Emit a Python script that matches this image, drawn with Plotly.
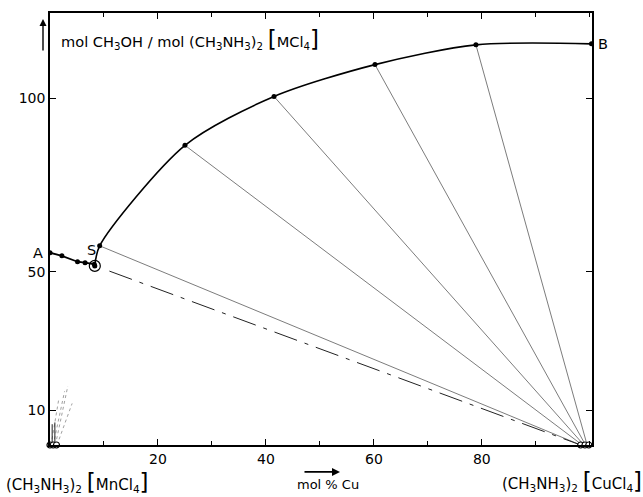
import plotly.graph_objects as go

# ---- data ----
# lower branch A -> S (Mn-rich side)
lower_x = [0.0, 2.2, 5.1, 6.5, 8.2]
lower_y = [55.5, 54.6, 52.9, 52.6, 52.2]
# point S (circled)
s_x = [8.3]
s_y = [51.7]
# upper branch S -> B
upper_x = [8.3, 9.2, 25.0, 41.5, 60.2, 78.9, 100.3]
upper_y = [51.7, 57.5, 86.5, 100.6, 109.8, 115.5, 115.8]
# tie lines: from curve points to Cu-rich solid phases
tie_start_x = [9.2, 25.0, 41.5, 60.2, 78.9]
tie_start_y = [57.5, 86.5, 100.6, 109.8, 115.5]
tie_end_x = [98.3, 98.6, 98.9, 99.2, 99.5]
# dash-dot line from S
dashdot_x = [11.0, 98.3]
dashdot_y = [50.2, 0.0]
# open circles on the baseline
circ_mn_x = [0.0, 0.6, 1.2]
circ_cu_x = [98.3, 99.1, 99.8]
# faint dotted tie lines near the Mn end
dot_start_x = [0.2, 0.6, 1.0, 1.3]
dot_end_x = [1.6, 2.7, 3.3, 4.1]
dot_end_y = [13.0, 15.5, 17.0, 12.0]
# short solid tie stubs near Mn end
stub_x = [0.4, 0.9]
stub_y = [6.0, 6.5]

x_ticks = [20, 40, 60, 80]
x_ticklabels = ["20", "40", "60", "80"]
y_ticks = [10, 50, 100]
y_ticklabels = ["10", "50", "100"]

fig = go.Figure()

thin = dict(color="#444444", width=0.7)

for sx, sy, ex in zip(tie_start_x, tie_start_y, tie_end_x):
    fig.add_trace(go.Scatter(x=[sx, ex], y=[sy, 0], mode="lines", line=thin,
                             hoverinfo="skip", showlegend=False))

fig.add_trace(go.Scatter(x=dashdot_x, y=dashdot_y, mode="lines",
                         line=dict(color="#222222", width=1, dash="24px,8px,4px,8px"),
                         showlegend=False))

for sx, ex, ey in zip(dot_start_x, dot_end_x, dot_end_y):
    fig.add_trace(go.Scatter(x=[sx, ex], y=[0, ey], mode="lines",
                             line=dict(color="#888888", width=0.8, dash="dot"),
                             showlegend=False))
for sx, sy in zip(stub_x, stub_y):
    fig.add_trace(go.Scatter(x=[sx, sx], y=[0, sy], mode="lines",
                             line=dict(color="#222222", width=1), showlegend=False))

# curves
fig.add_trace(go.Scatter(x=lower_x + s_x, y=lower_y + s_y, mode="lines+markers",
                         line=dict(color="black", width=1.8),
                         marker=dict(size=5, color="black"), showlegend=False))
fig.add_trace(go.Scatter(x=upper_x, y=upper_y, mode="lines",
                         line=dict(color="black", width=1.6, shape="spline", smoothing=0.8),
                         showlegend=False))
fig.add_trace(go.Scatter(x=upper_x[1:], y=upper_y[1:], mode="markers",
                         marker=dict(size=5, color="black"), showlegend=False,
                         cliponaxis=False))
fig.add_trace(go.Scatter(x=s_x, y=s_y, mode="markers",
                         marker=dict(size=11, color="rgba(0,0,0,0)",
                                     line=dict(color="black", width=1.2)),
                         showlegend=False))
fig.add_trace(go.Scatter(x=circ_mn_x + circ_cu_x, y=[0] * 6, mode="markers",
                         marker=dict(size=6, color="white",
                                     line=dict(color="black", width=1.2)),
                         showlegend=False, cliponaxis=False))

font = dict(family="DejaVu Sans", size=14, color="black")

axis_common = dict(showline=True, linecolor="black", linewidth=1.5, mirror="allticks",
                   ticks="inside", ticklen=6, tickcolor="black", tickwidth=1.2,
                   showgrid=False, zeroline=False, tickfont=font)

fig.update_layout(
    width=643, height=497,
    margin=dict(l=50, r=51, t=11, b=52),
    plot_bgcolor="white", paper_bgcolor="white",
    font=font,
    xaxis=dict(range=[0, 100.4], tickmode="array", tickvals=x_ticks,
               ticktext=x_ticklabels,
               minor=dict(dtick=10, ticks="inside", ticklen=4, tickcolor="black"),
               **axis_common),
    yaxis=dict(range=[0, 124.7], tickmode="array", tickvals=y_ticks,
               ticktext=y_ticklabels, **axis_common),
)


def px(x):
    return (x - 50) / 542


def py(y):
    return (445 - y) / 434


big = "<span style='font-size:23px'>%s</span>"
ann = []
ann.append(dict(x=px(59), y=py(37), xref="paper", yref="paper",
                xanchor="left", yanchor="middle", showarrow=False,
                text="mol CH<sub>3</sub>OH / mol (CH<sub>3</sub>NH<sub>3</sub>)<sub>2</sub> "
                     + big % "[" + "MCl<sub>4</sub>" + big % "]",
                font=dict(family="DejaVu Sans", size=14.6)))
ann.append(dict(x=px(4), y=py(482), xref="paper", yref="paper",
                xanchor="left", yanchor="middle", showarrow=False,
                font=dict(family="DejaVu Sans", size=15),
                text="(CH<sub>3</sub>NH<sub>3</sub>)<sub>2</sub> " + big % "[" +
                     "MnCl<sub>4</sub>" + big % "]"))
ann.append(dict(x=px(500), y=py(481), xref="paper", yref="paper",
                xanchor="left", yanchor="middle", showarrow=False,
                font=dict(family="DejaVu Sans", size=15),
                text="(CH<sub>3</sub>NH<sub>3</sub>)<sub>2</sub> " + big % "[" +
                     "CuCl<sub>4</sub>" + big % "]"))
ann.append(dict(x=px(328), y=py(485), xref="paper", yref="paper",
                xanchor="center", yanchor="middle", showarrow=False,
                text="mol % Cu", font=dict(family="DejaVu Sans", size=13)))
# arrow above x label
ann.append(dict(x=px(340), y=py(472), ax=-37, ay=0, xref="paper", yref="paper",
                axref="pixel", ayref="pixel", showarrow=True, arrowhead=2,
                arrowsize=1, arrowwidth=1.6, arrowcolor="black", text=""))
# arrow up for y
ann.append(dict(x=px(43), y=py(17), ax=0, ay=33, xref="paper", yref="paper",
                axref="pixel", ayref="pixel", showarrow=True, arrowhead=2,
                arrowsize=1, arrowwidth=1.4, arrowcolor="black", text=""))
for lbl, lx, ly in [("A", 38, 252), ("S", 91, 249), ("B", 603, 42)]:
    ann.append(dict(x=px(lx), y=py(ly), xref="paper", yref="paper",
                    xanchor="center", yanchor="middle", showarrow=False, text=lbl,
                    font=dict(family="DejaVu Sans", size=14.5)))
fig.update_layout(annotations=ann)

fig.write_html("out.html", config={"displayModeBar": False},
               post_script="document.body.style.margin='0';"
                           "document.body.style.padding='0';")
